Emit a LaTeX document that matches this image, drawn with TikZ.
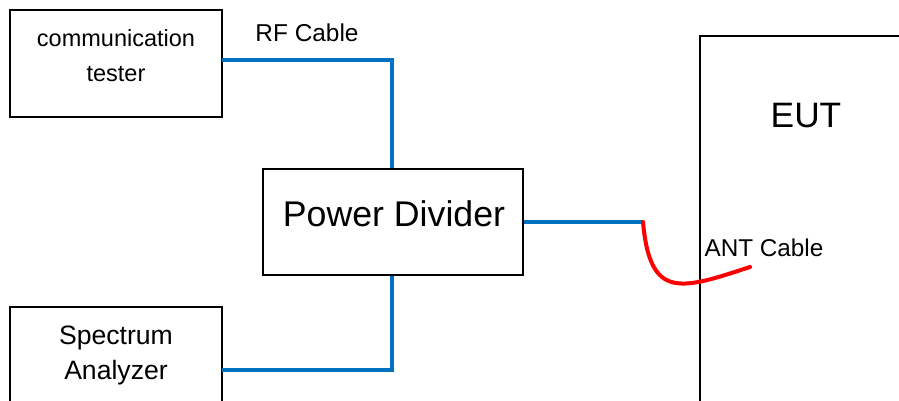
\documentclass[tikz,border=0pt]{standalone}
\usepackage{fontspec}
\setmainfont{Liberation Sans}
\begin{document}
\begin{tikzpicture}[x=1pt,y=-1pt,
  box/.style={draw=black,line width=1.3pt,fill=none},
  cable/.style={draw={rgb,255:red,0;green,112;blue,192},line width=4pt},
  antcable/.style={draw=red,line width=4pt,line cap=round},
  txt/.style={inner sep=0pt,anchor=base},
  fs/.style={font=\fontsize{#1}{#1}\selectfont}]
\useasboundingbox (0,0) rectangle (899,401);
\clip (0,0) rectangle (899,401);
% boxes
\path[box] (10,10) rectangle (222,117);
\coordinate (ctR) at (222,60);
\path[box] (10,307) rectangle (222,430);
\coordinate (saR) at (222,370);
\node[box,minimum width=260pt,minimum height=106pt,inner sep=0pt] (pd) at (393,222) {};
\path[box] (700,36) rectangle (930,430);
% texts
\node[txt,fs=23.5] (t1) at (116,47) {communication};
\node[txt,fs=23.5] (t2) at (116,82) {tester};
\node[txt,fs=24.4] (rf) at (307,42) {RF Cable};
\node[txt,fs=26.6] (s1) at (116,344) {Spectrum};
\node[txt,fs=26.6] (s2) at (116,379) {Analyzer};
\node[txt,fs=35.7] (pdt) at (394,226) {Power Divider};
\node[txt,fs=35.3] (eut) at (806,128) {EUT};
\node[txt,fs=24.3] (ant) at (764,256) {ANT Cable};
% cables
\coordinate (j) at (643,222);
\coordinate (antend) at (750,267);
\path[cable] (ctR) -- (392,60) -- (392,0 |- pd.north);
\path[cable] (392,0 |- pd.south) -- (392,370) -- (saR);
\path[cable] (pd.east |- j) -- (j);
\path[antcable] (j) .. controls (650,300) and (680,290) .. (antend);
\end{tikzpicture}
\end{document}
